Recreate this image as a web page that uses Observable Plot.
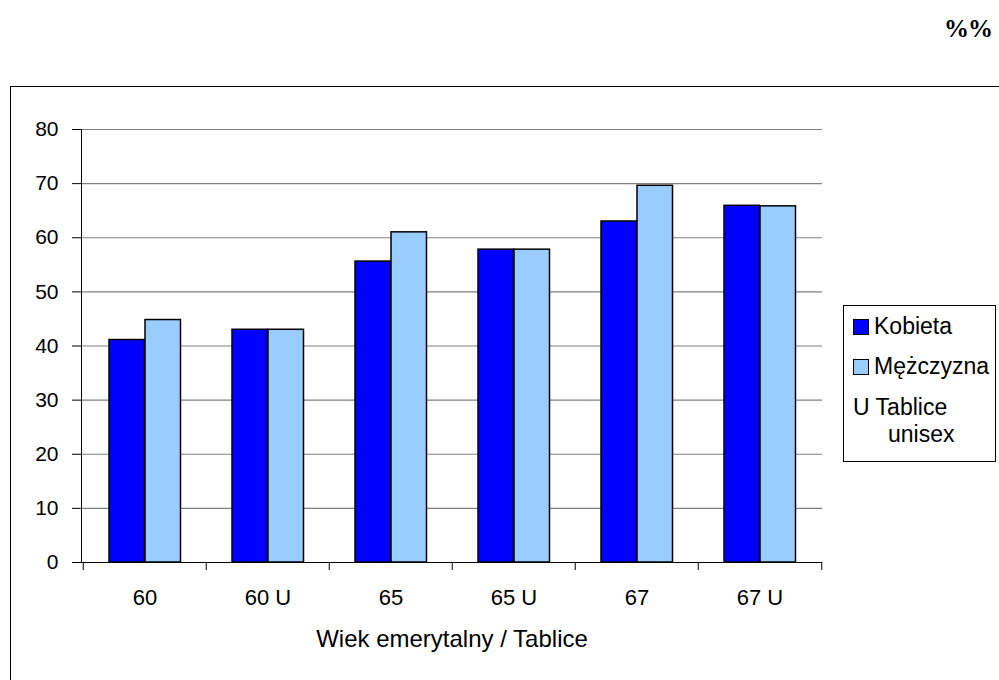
<!DOCTYPE html>
<html>
<head>
<meta charset="utf-8">
<script src="https://cdn.jsdelivr.net/npm/d3@7"></script>
<script src="https://cdn.jsdelivr.net/npm/@observablehq/plot@0.6"></script>
<style>
  html, body { margin: 0; padding: 0; background: #fff; }
  #wrap { position: relative; width: 999px; height: 680px; overflow: hidden; font-family: "Liberation Sans", Arial, sans-serif; }
  #wrap svg { position: absolute; left: 0; top: 0; }
  #frame { position: absolute; left: 10px; top: 86px; width: 1100px; height: 700px; border: 1px solid #000; box-sizing: border-box; }
  #pct { position: absolute; left: 944px; top: 15px; font-family: "Liberation Serif", "DejaVu Serif", serif; font-weight: bold; font-size: 25px; letter-spacing: -1px; }
  #legend { position: absolute; left: 843px; top: 305px; width: 153px; height: 157px; border: 1px solid #000; box-sizing: border-box; background: #fff; font-size: 23px; color: #000; }
  .li { position: absolute; left: 9px; display: flex; align-items: center; white-space: nowrap; }
  .sw { width: 14px; height: 14px; border: 1.5px solid #000; margin-right: 5px; }
</style>
</head>
<body>
<div id="wrap">
  <div id="frame"></div>
  <div id="pct">%%</div>
</div>
<script>
const categories = ["60", "60 U", "65", "65 U", "67", "67 U"];
const kobieta = [41.1, 43, 55.6, 57.8, 63, 65.9];
const mezczyzna = [44.8, 43, 61, 57.8, 69.6, 65.8];
const series = ["Kobieta", "Mężczyzna"];
const colors = ["#0000ff", "#99ccff"];
const yTicks = [0, 10, 20, 30, 40, 50, 60, 70, 80];
const xTitle = "Wiek emerytalny / Tablice";
const legendNote = ["U Tablice", "unisex"];

const rows = categories.flatMap((c, i) => [
  {category: c, sex: series[0], value: kobieta[i]},
  {category: c, sex: series[1], value: mezczyzna[i]}
]);

const W = 999, H = 680, mL = 81, mR = 177, mT = 129, mB = 118;
const band = (W - mL - mR) / categories.length;

const chart = Plot.plot({
  width: W, height: H,
  marginLeft: mL, marginRight: mR, marginTop: mT, marginBottom: mB,
  style: {fontFamily: "Liberation Sans, Arial, sans-serif", fontSize: "21px", color: "#000", background: "transparent", overflow: "visible"},
  x: {domain: categories, padding: 0, axis: null, label: null},
  y: {domain: [0, 80], axis: null, label: null},
  marks: [
    Plot.gridY(yTicks.filter(d => d > 0), {stroke: "#808080", strokeOpacity: 1, strokeWidth: 1.2}),
    Plot.barY(rows.filter(d => d.sex === series[0]), {x: "category", y: "value", fill: colors[0], stroke: "#000", strokeWidth: 1.5, insetLeft: 26, insetRight: band - 62}),
    Plot.barY(rows.filter(d => d.sex === series[1]), {x: "category", y: "value", fill: colors[1], stroke: "#000", strokeWidth: 1.5, insetLeft: 62, insetRight: band - 98}),
    Plot.ruleY([0], {stroke: "#000"}),
    Plot.frame({anchor: "left", stroke: "#000"}),
    Plot.ruleX(categories, {x: d => d, y1: 0, y2: 0, insetBottom: -8, dx: -band / 2, stroke: "#000"}),
    Plot.ruleX(categories.slice(-1), {x: d => d, y1: 0, y2: 0, insetBottom: -8, dx: band / 2, stroke: "#000"}),
    Plot.axisY(yTicks, {tickSize: 9, tickPadding: 14, fontSize: 21, stroke: "#000", label: null}),
    Plot.axisX({tickSize: 0, tickPadding: 27, fontSize: 22, label: null}),
    Plot.text([xTitle], {frameAnchor: "bottom", dy: 84, fontSize: 24, fill: "#000"})
  ]
});
const wrap = document.getElementById("wrap");
wrap.insertBefore(chart, document.getElementById("pct"));

const legend = document.createElement("div");
legend.id = "legend";
series.forEach((s, i) => {
  const it = document.createElement("div");
  it.className = "li";
  it.style.top = (i === 0 ? 7 : 47) + "px";
  const sw = document.createElement("div");
  sw.className = "sw";
  sw.style.background = colors[i];
  it.appendChild(sw);
  const t = document.createElement("span");
  t.textContent = s;
  it.appendChild(t);
  legend.appendChild(it);
});
const n1 = document.createElement("div");
n1.className = "li"; n1.style.top = "88px"; n1.textContent = legendNote[0];
legend.appendChild(n1);
const n2 = document.createElement("div");
n2.className = "li"; n2.style.top = "115px"; n2.style.left = "44px"; n2.textContent = legendNote[1];
legend.appendChild(n2);
wrap.appendChild(legend);
</script>
</body>
</html>
